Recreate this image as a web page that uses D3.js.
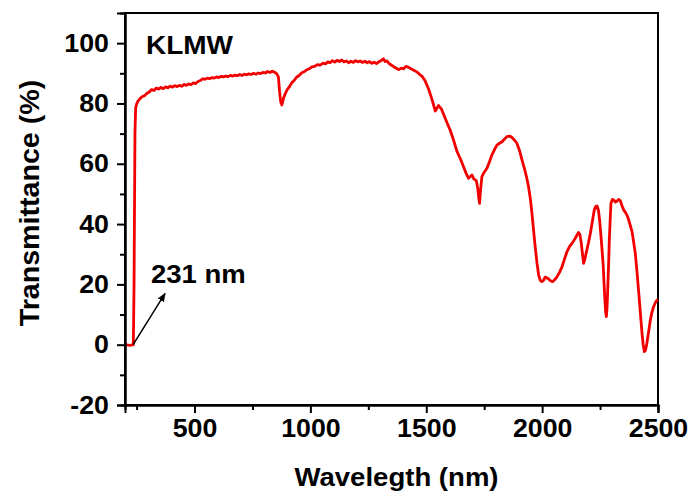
<!DOCTYPE html>
<html>
<head>
<meta charset="utf-8">
<script src="https://cdn.jsdelivr.net/npm/d3@7/dist/d3.min.js"></script>
<style>
  html, body { margin: 0; padding: 0; background: #fff; }
  svg { display: block; }
  text { font-family: "Liberation Sans", Arial, sans-serif; font-weight: bold; fill: #000; }
</style>
</head>
<body>
<svg id="chart" width="693" height="496"></svg>
<script>
// ---- data ----
const wavelength = [200,220,236,239,241,243,246,250,256,265,275,285,295,305,315,325,335,345,355,365,375,385,395,405,415,425,435,445,455,465,475,485,495,505,515,525,535,545,555,565,575,585,595,605,615,625,635,645,655,665,675,685,695,705,715,725,735,745,755,765,775,785,795,805,815,825,835,845,855,862,867,872,877,885,893,900,910,920,930,940,950,963,975,985,995,1006,1018,1030,1042,1055,1065,1075,1085,1095,1105,1115,1125,1135,1145,1155,1165,1175,1185,1195,1205,1215,1225,1235,1245,1255,1265,1275,1285,1295,1305,1315,1322,1330,1340,1352,1362,1372,1382,1392,1402,1412,1423,1432,1442,1452,1462,1472,1482,1495,1510,1524,1539,1553,1565,1574,1590,1603,1618,1632,1648,1661,1672,1682,1690,1697,1705,1716,1722,1726,1730,1734,1740,1750,1762,1772,1783,1795,1805,1816,1827,1838,1848,1860,1870,1880,1891,1902,1913,1924,1934,1941,1949,1956,1963,1970,1978,1985,1992,1999,2006,2013,2020,2028,2036,2045,2055,2064,2075,2086,2097,2107,2118,2129,2143,2150,2157,2163,2169,2175,2179,2185,2191,2200,2208,2217,2225,2231,2237,2243,2248,2256,2263,2270,2274,2277,2280,2283,2287,2290,2294,2297,2303,2309,2316,2323,2330,2337,2345,2352,2360,2369,2378,2388,2395,2402,2409,2416,2424,2431,2436,2441,2446,2452,2460,2467,2474,2481,2489,2496,2500];
const transmittance = [0,-0.2,0,20,45,70,78.5,79.8,80.8,81.6,82.3,82.6,83.4,83.8,84.6,84.3,85.1,84.8,85.3,84.9,85.5,85.2,85.7,85.4,85.9,85.6,86.0,85.7,86.3,86.0,86.5,86.2,86.8,86.6,87.3,87.6,88.2,88.0,88.4,88.2,88.6,88.4,88.8,88.6,89.0,88.8,89.1,88.9,89.3,89.1,89.4,89.2,89.6,89.3,89.7,89.5,89.8,89.6,90.0,89.7,90.1,89.9,90.3,90.1,90.6,90.3,90.7,90.4,89.8,88.8,84,80.5,79.5,82,83.5,84.6,85.6,86.9,87.6,88.7,89.2,90.2,90.6,91.2,91.5,92.1,92.3,92.9,92.7,93.4,93.1,93.8,93.5,94.2,93.7,94.3,93.9,94.4,93.8,94.1,93.5,94.0,93.6,94.2,93.8,94.1,93.6,94.0,93.5,93.9,93.3,93.7,93.2,93.8,94.2,94.8,93.9,94.1,93.2,92.6,92.1,91.6,91.2,91.7,91.5,92.3,92.0,91.6,91.2,90.8,90.3,89.6,89.0,87.5,84.8,81.5,77.5,79.3,78.2,76.6,73.5,71.2,67.8,64.2,61.5,59,56.8,55.2,55.8,56.3,55,54.4,52,49,46.9,51,55.7,57.2,58.5,60.5,62.9,64.8,66.2,66.8,67.3,68.2,69,69.2,68.7,67.9,66.8,64.5,61.3,58.3,55.2,52.5,48.5,43.6,38,32.5,27,23.1,21.3,20.9,21.3,22.4,22.2,21.8,21.2,20.9,21.6,22.5,24,25.9,28.5,30.8,32.5,33.6,35.3,36.3,37.2,36.5,33.6,29.5,27,28.5,30.8,33.8,36.9,41,44.7,45.8,46,44.5,41.4,34,27,16,11,9.3,12,18.1,27,34.7,42,46.9,48.2,48,47.3,47.6,48.2,47.8,46,44.7,43.8,42.5,40.2,37.5,34,30.3,24.5,18.1,10.5,3.8,0,-2.3,-1.8,0.5,4.5,8.2,10.8,12.6,14,14.8,15];
const xTicks = [500, 1000, 1500, 2000, 2500];
const xMinorTicks = [250, 750, 1250, 1750, 2250];
const yTicks = [-20, 0, 20, 40, 60, 80, 100];
const yMinorTicks = [-10, 10, 30, 50, 70, 90];
const sampleLabel = "KLMW";
const edgeLabel = "231 nm";
const arrowFrom = [235, 0];
const arrowTo = [373, 17];
const xTitle = "Wavelegth (nm)";
const yTitle = "Transmittance (%)";

// ---- layout ----
const svg = d3.select("#chart");
const m = { left: 125, right: 35, top: 13, bottom: 91 };
const W = 693, H = 496;
const x = d3.scaleLinear().domain([200, 2500]).range([m.left, W - m.right]);
const y = d3.scaleLinear().domain([-20, 110]).range([H - m.bottom, m.top]);
const fmt = d => String(d); // plain hyphen-minus like the original

// frame (top & right)
svg.append("rect")
  .attr("x", m.left).attr("y", m.top)
  .attr("width", W - m.right - m.left).attr("height", H - m.bottom - m.top)
  .attr("fill", "none").attr("stroke", "#000").attr("stroke-width", 2);

// curve
const line = d3.line().x((d, i) => x(wavelength[i])).y(d => y(d));
svg.append("path")
  .datum(transmittance)
  .attr("d", line)
  .attr("fill", "none")
  .attr("stroke", "#f20000")
  .attr("stroke-width", 2.8)
  .attr("stroke-linejoin", "round");

// axes
const xAxis = svg.append("g").attr("transform", `translate(0,${H - m.bottom})`)
  .call(d3.axisBottom(x).tickValues(xTicks).tickSize(8).tickPadding(6).tickFormat(fmt));
const xMinor = svg.append("g").attr("transform", `translate(0,${H - m.bottom})`)
  .call(d3.axisBottom(x).tickValues(xMinorTicks).tickSize(5).tickFormat(""));
const yAxis = svg.append("g").attr("transform", `translate(${m.left},0)`)
  .call(d3.axisLeft(y).tickValues(yTicks).tickSize(8).tickPadding(6).tickFormat(fmt));
const yMinor = svg.append("g").attr("transform", `translate(${m.left},0)`)
  .call(d3.axisLeft(y).tickValues(yMinorTicks).tickSize(5).tickFormat(""));

[xAxis, xMinor, yAxis, yMinor].forEach(g => {
  g.select(".domain").attr("stroke", "#000").attr("stroke-width", 2);
  g.selectAll(".tick line").attr("stroke", "#000").attr("stroke-width", 2);
  g.selectAll("text").attr("font-family", "Liberation Sans, Arial, sans-serif")
    .attr("font-weight", "bold").attr("font-size", 25).attr("fill", "#000");
});
xAxis.selectAll("text").attr("dy", "0.71em").attr("transform", "scale(1.07,1)");
yAxis.selectAll("text").attr("x", -15).attr("transform", "scale(1.07,1)");

// titles
svg.append("text")
  .attr("transform", `translate(${(m.left + W - m.right) / 2 + 5},486) scale(1.06,1)`)
  .attr("text-anchor", "middle").attr("font-size", 26).text(xTitle);
svg.append("text")
  .attr("transform", `translate(39,${(m.top + H - m.bottom) / 2 - 6}) rotate(-90) scale(1.06,1)`)
  .attr("text-anchor", "middle").attr("font-size", 27).text(yTitle);

// sample label
svg.append("text").attr("transform", "translate(146,54) scale(1.12,1)")
  .attr("font-size", 25).text(sampleLabel);

// annotation
svg.append("defs").append("marker")
  .attr("id", "ah").attr("viewBox", "0 0 10 10").attr("refX", 9).attr("refY", 5)
  .attr("markerWidth", 9).attr("markerHeight", 9).attr("markerUnits", "userSpaceOnUse")
  .attr("orient", "auto")
  .append("path").attr("d", "M0,1 L10,5 L0,9 Z").attr("fill", "#000");
svg.append("line")
  .attr("x1", x(arrowFrom[0])).attr("y1", y(arrowFrom[1]))
  .attr("x2", x(arrowTo[0])).attr("y2", y(arrowTo[1]))
  .attr("stroke", "#000").attr("stroke-width", 1.5).attr("marker-end", "url(#ah)");
svg.append("text").attr("transform", "translate(151,283) scale(1.1,1)")
  .attr("font-size", 25).text(edgeLabel);
</script>
</body>
</html>
